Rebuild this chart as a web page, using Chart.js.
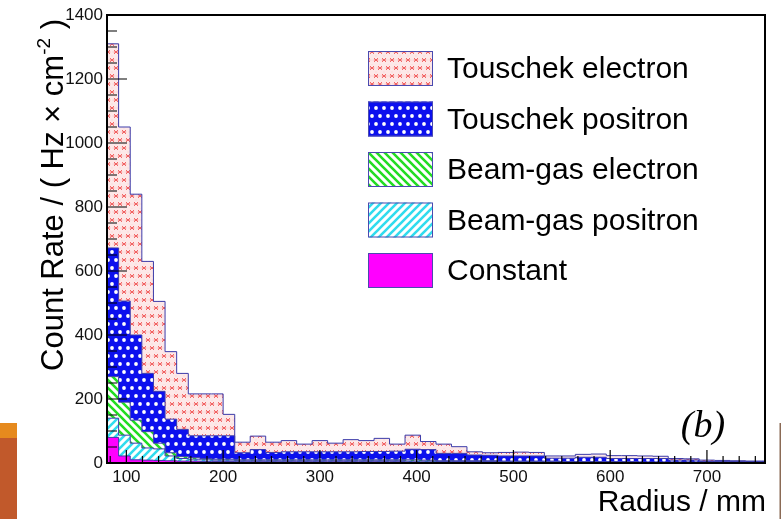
<!DOCTYPE html>
<html>
<head>
<meta charset="utf-8">
<script src="https://cdn.jsdelivr.net/npm/chart.js@4.4.1/dist/chart.umd.min.js"></script>
<style>
  html, body { margin: 0; padding: 0; background: #fff; }
  canvas { display: block; }
</style>
</head>
<body>
<canvas id="myChart" width="782" height="519"></canvas>
<script>
// bin edges in mm (12 mm bins up to 212, 16 mm after)
const binEdges = [80, 92, 104, 116, 128, 140, 152, 164, 176, 188, 200, 212,
  228, 244, 260, 276, 292, 308, 324, 340, 356, 372, 388, 404, 420, 436, 452, 468,
  484, 500, 516, 532, 548, 564, 580, 596, 612, 628, 644, 660, 676, 692, 708, 724,
  740, 756, 772]

// per-component count rates, stacked bottom -> top
const constant = [80, 22, 10, 9, 8, 7, 6, 6, 5, 5, 5,
  4, 4, 4, 4, 4, 4, 4, 4, 4, 4, 4, 3, 3, 3, 3, 3, 3,
  2, 2, 2, 2, 2, 2, 2, 2, 2, 1, 1, 1, 1, 1, 1, 1, 1, 1]
const beamGasPositron = [60, 65, 52, 38, 36, 15, 8, 6, 5, 4, 4,
  3, 3, 3, 3, 3, 3, 3, 3, 3, 3, 3, 3, 3, 2, 2, 2, 2,
  2, 2, 2, 2, 1, 1, 1, 1, 1, 1, 1, 1, 1, 1, 1, 1, 1, 1]
const beamGasElectron = [130, 103, 72, 51, 18, 10, 6, 5, 4, 3, 3,
  3, 3, 3, 3, 3, 3, 3, 3, 3, 3, 3, 4, 3, 2, 2, 2, 2,
  2, 2, 2, 2, 1, 1, 1, 1, 1, 1, 1, 1, 1, 1, 1, 1, 1, 1]
const touschekPositron = [402, 316, 266, 182, 162, 105, 85, 68, 71, 73, 73,
  22, 32, 23, 25, 25, 25, 25, 25, 26, 26, 27, 33, 33, 23, 23, 18, 17,
  16, 16, 16, 9, 11, 14, 14, 10, 10, 11, 11, 6, 6, 2, 2, 2, 2, 2]
const touschekElectron = [638, 544, 440, 350, 281, 211, 175, 131, 131, 131, 67,
  33, 42, 32, 35, 24, 35, 27, 38, 34, 41, 22, 44, 25, 29, 21, 10, 8,
  11, 12, 11, 7, 7, 9, 10, 9, 9, 8, 7, 5, 4, 4, 3, 2, 1, 1]

const xTickLabels = [100, 200, 300, 400, 500, 600, 700]
const yTickLabels = [0, 200, 400, 600, 800, 1000, 1200, 1400]
const seriesNames = ['Constant', 'Beam-gas positron', 'Beam-gas electron', 'Touschek positron', 'Touschek electron']

const SANS = '"Liberation Sans", Arial, Helvetica, sans-serif'

let makePattern = (w, h, draw) => {
  let c = document.createElement('canvas')
  c.width = w
  c.height = h
  let g = c.getContext('2d')
  draw(g, w, h)
  return g.createPattern(c, 'repeat')
}

let stars = makePattern(8, 16, g => {
  g.fillStyle = '#fde8e8'
  g.fillRect(0, 0, 8, 16)
  g.fillStyle = '#f7caca'
  ;[[0, 4], [4, 0], [4, 12], [0, 8], [8, 8]].forEach(p => g.fillRect(p[0] - 0.5, p[1] - 0.5, 1, 1))
  g.strokeStyle = '#f05a5a'
  g.lineWidth = 0.9
  let star = (x, y) => {
    g.beginPath()
    g.moveTo(x - 2, y - 2); g.lineTo(x + 2, y + 2)
    g.moveTo(x + 2, y - 2); g.lineTo(x - 2, y + 2)
    g.moveTo(x - 2.2, y); g.lineTo(x + 2.2, y)
    g.stroke()
  }
  star(4, 4); star(0, 12); star(8, 12)
})

let dots = makePattern(8, 16, g => {
  g.fillStyle = '#0c10ee'
  g.fillRect(0, 0, 8, 16)
  g.fillStyle = '#ffffff'
  ;[[4, 4], [0, 12], [8, 12]].forEach(p => {
    g.beginPath()
    g.arc(p[0], p[1], 1.9, 0, Math.PI * 2)
    g.fill()
  })
})

let hatch = (color, dir) => makePattern(8, 8, g => {
  g.fillStyle = '#ffffff'
  g.fillRect(0, 0, 8, 8)
  g.strokeStyle = color
  g.lineWidth = 2.6
  g.beginPath()
  for (let o = -8; o <= 8; o += 8) {
    if (dir > 0) { g.moveTo(o - 1, -1); g.lineTo(o + 9, 9) }
    else { g.moveTo(o - 1, 9); g.lineTo(o + 9, -1) }
  }
  g.stroke()
})

const fills = ['#ff00ff', hatch('#30dcee', -1), hatch('#22dd22', 1), dots, stars]

let layers = [constant, beamGasPositron, beamGasElectron, touschekPositron, touschekElectron]
let running = binEdges.slice(0, -1).map(() => 0)
let datasets = layers.map((vals, k) => {
  running = running.map((r, i) => r + vals[i])
  let pts = running.map((y, i) => ({ x: binEdges[i], y: y }))
  pts.push({ x: binEdges[binEdges.length - 1], y: running[running.length - 1] })
  return {
    label: seriesNames[k],
    data: pts,
    stepped: 'before',
    fill: k === 0 ? 'origin' : '-1',
    backgroundColor: fills[k],
    borderColor: '#3c3caa',
    borderWidth: 1,
    pointRadius: 0
  }
})

// ROOT style frame, inward ticks, titles and legend
let rootDecor = {
  id: 'rootDecor',
  afterDraw: chart => {
    let ctx = chart.ctx
    let a = chart.chartArea
    let xs = chart.scales.x, ys = chart.scales.y
    ctx.save()

    ctx.strokeStyle = '#000'
    ctx.lineWidth = 1.2
    ctx.beginPath()
    for (let v = 0; v <= 1400; v += 50) {
      let y = ys.getPixelForValue(v)
      let len = v % 200 === 0 ? 20 : 10
      ctx.moveTo(a.left, y); ctx.lineTo(a.left + len, y)
    }
    for (let v = 100 - 100 / 6 * 1; v < 760; v += 100 / 6) {
      let x = xs.getPixelForValue(v)
      let major = Math.abs(v / 100 - Math.round(v / 100)) < 0.001
      ctx.moveTo(x, a.bottom); ctx.lineTo(x, a.bottom - (major ? 13 : 7))
    }
    ctx.stroke()

    ctx.lineWidth = 2
    ctx.strokeRect(a.left, a.top, a.right - a.left, a.bottom - a.top)

    // legend, top to bottom
    ctx.font = '30px ' + SANS
    ctx.textBaseline = 'middle'
    ctx.textAlign = 'left'
    let order = [4, 3, 2, 1, 0]
    order.forEach((k, row) => {
      let top = 51 + row * 50.5
      ctx.fillStyle = fills[k]
      ctx.fillRect(368, top, 65, 35)
      ctx.strokeStyle = '#4a4ab0'
      ctx.lineWidth = 1
      ctx.strokeRect(368.5, top + 0.5, 64, 34)
      ctx.fillStyle = '#000'
      ctx.fillText(seriesNames[k], 447, top + 19)
    })

    // (b)
    ctx.font = 'italic 38px "Liberation Serif", "Times New Roman", serif'
    ctx.textAlign = 'center'
    ctx.textBaseline = 'alphabetic'
    ctx.fillText('(b)', 703, 437)

    // axis titles
    ctx.font = '30px ' + SANS
    ctx.textAlign = 'right'
    ctx.fillText('Radius / mm', 766, 511)

    let fs = 31
    let p1 = 'Count Rate / ( Hz \u00d7 cm', sup = '-2', p3 = ' )'
    ctx.translate(63, 195)
    ctx.rotate(-Math.PI / 2)
    ctx.textAlign = 'left'
    ctx.font = fs + 'px ' + SANS
    let w1 = ctx.measureText(p1).width, w3 = ctx.measureText(p3).width
    let supFont = Math.round(fs * 0.62) + 'px ' + SANS
    ctx.font = supFont
    let w2 = ctx.measureText(sup).width
    let x0 = -(w1 + w2 + w3) / 2
    ctx.font = fs + 'px ' + SANS
    ctx.fillText(p1, x0, 0)
    ctx.fillText(p3, x0 + w1 + w2, 0)
    ctx.font = supFont
    ctx.fillText(sup, x0 + w1, -fs * 0.42)
    ctx.restore()

    // slide decoration at the page edges
    ctx.save()
    ctx.fillStyle = '#e68a1e'
    ctx.fillRect(0, 423, 17, 15)
    ctx.fillStyle = '#c1592b'
    ctx.fillRect(0, 438, 17, 81)
    ctx.fillStyle = '#8a6a55'
    ctx.fillRect(779.5, 423, 1.5, 96)
    ctx.restore()
  }
}

let tickFont = { family: SANS, size: 17 }
let plainLabel = v => String(v)

new Chart(document.getElementById('myChart'), {
  type: 'line',
  data: { datasets: datasets },
  options: {
    responsive: false,
    animation: false,
    events: [],
    layout: { padding: { top: 15, right: 17, left: 0, bottom: 0 } },
    plugins: {
      legend: { display: false },
      tooltip: { enabled: false },
      filler: { drawTime: 'beforeDatasetsDraw' }
    },
    scales: {
      x: {
        type: 'linear',
        min: 80,
        max: 760,
        grid: { display: false, drawTicks: false },
        border: { display: false },
        ticks: { font: tickFont, color: '#111', padding: 4, maxRotation: 0, autoSkip: false, callback: plainLabel },
        afterBuildTicks: s => { s.ticks = xTickLabels.map(v => ({ value: v })) },
        afterFit: s => { s.height = 56 }
      },
      y: {
        min: 0,
        max: 1400,
        grid: { display: false, drawTicks: false },
        border: { display: false },
        ticks: { font: tickFont, color: '#111', padding: 4, callback: plainLabel },
        afterBuildTicks: s => { s.ticks = yTickLabels.map(v => ({ value: v })) },
        afterFit: s => { s.width = 107 }
      }
    }
  },
  plugins: [rootDecor]
})
</script>
</body>
</html>
